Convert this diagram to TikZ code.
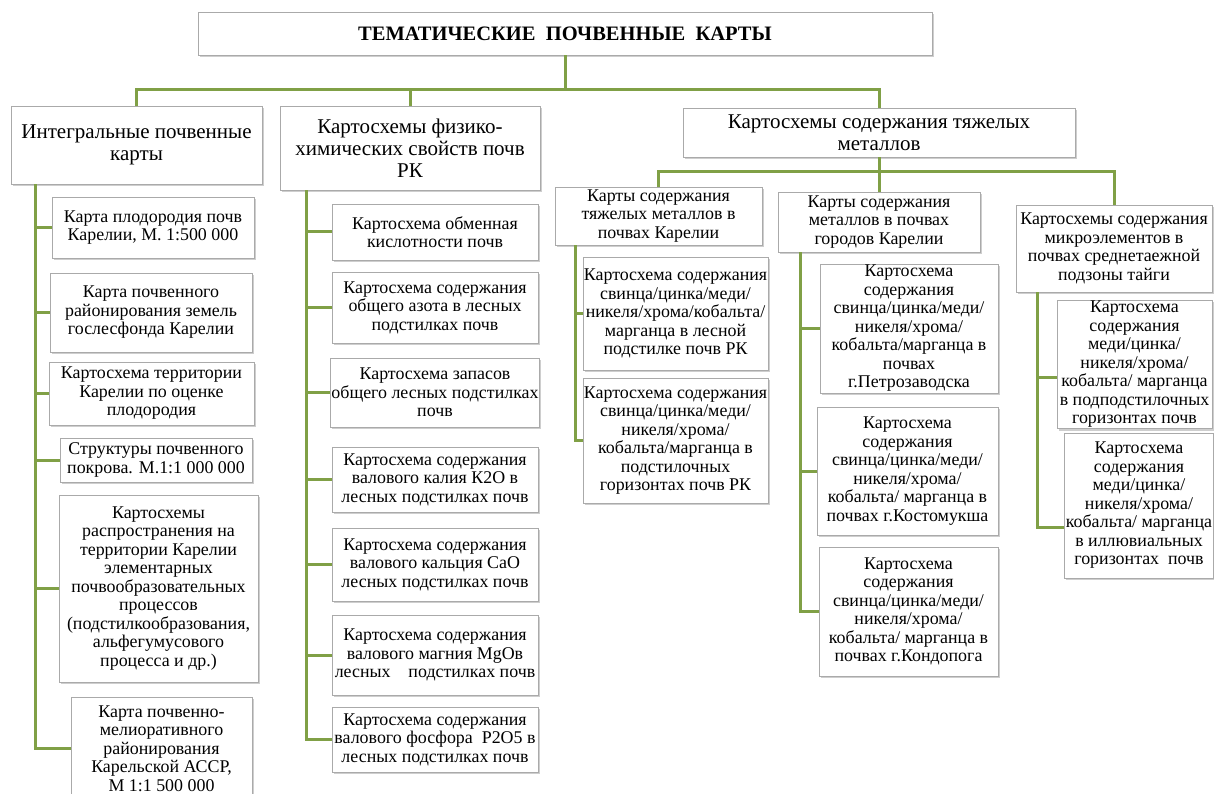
\documentclass[tikz,border=0pt]{standalone}
\usepackage{fontspec}
\setmainfont{Liberation Serif}
\usetikzlibrary{shadows}
\definecolor{linegreen}{RGB}{128,160,70}
\definecolor{boxborder}{RGB}{170,170,170}
\newcommand\bodyfont{\fontsize{17.9}{18.5}\selectfont}
\newcommand\levelfont{\fontsize{21}{22}\selectfont}
\newcommand\titlefont{\fontsize{20.5}{22}\selectfont\bfseries}
\tikzset{
  box/.style={draw=boxborder, line width=0.8pt, fill=white, align=center,
    inner sep=1pt, font=\bodyfont,
    drop shadow={shadow xshift=1.6pt, shadow yshift=-2pt, fill=black!35, opacity=0.55}},
  lvl/.style={box, font=\levelfont},
  conn/.style={draw=linegreen, line width=3pt}
}
\begin{document}
\begin{tikzpicture}[x=1pt,y=-1pt]
\useasboundingbox (0,0) rectangle (1214,794);

% title and level 1
\node[box, font=\titlefont, minimum width=734pt, minimum height=43pt] (T) at (565,33.5)
  {ТЕМАТИЧЕСКИЕ\enspace ПОЧВЕННЫЕ\enspace КАРТЫ};
\node[lvl, minimum width=251pt, minimum height=78pt] (A) at (136.5,145) {Интегральные почвенные\\карты};
\node[lvl, minimum width=260pt, minimum height=84pt] (B) at (410,148) {Картосхемы физико-\\химических свойств почв\\РК};
\node[lvl, minimum width=392pt, minimum height=49pt] (C) at (879,132.5) {Картосхемы содержания тяжелых\\металлов};

% level 2 under C
\node[box, minimum width=207pt, minimum height=58pt] (D) at (658.5,216) {Карты содержания\\тяжелых металлов в\\почвах Карелии};
\node[box, minimum width=202pt, minimum height=60pt] (E) at (879,222) {Карты содержания\\металлов в почвах\\городов Карелии};
\node[box, minimum width=196pt, minimum height=87pt] (F) at (1114,248.5) {Картосхемы содержания\\микроэлементов в\\почвах среднетаежной\\подзоны тайги};

% children of A
\node[box, minimum width=202pt, minimum height=61pt] (A1) at (153,227.5) {Карта плодородия почв\\Карелии, М. 1:500~000};
\node[box, minimum width=202pt, minimum height=79pt] (A2) at (151,312.5) {Карта почвенного\\районирования земель\\гослесфонда Карелии};
\node[box, minimum width=205pt, minimum height=63pt] (A3) at (151.5,393.5) {Картосхема территории\\Карелии по оценке\\плодородия};
\node[box, minimum width=192pt, minimum height=44pt] (A4) at (156,460) {Структуры почвенного\\покрова. М.1:1~000~000};
\node[box, minimum width=199pt, minimum height=187pt] (A5) at (158.5,588.5) {Картосхемы\\распространения на\\территории Карелии\\элементарных\\почвообразовательных\\процессов\\(подстилкообразования,\\альфегумусового\\процесса и др.)};
\node[box, minimum width=181pt, minimum height=103pt] (A6) at (161.5,748.5) {Карта почвенно-\\мелиоративного\\районирования\\Карельской АССР,\\М 1:1~500~000};

% children of B
\node[box, minimum width=206pt, minimum height=56pt] (B1) at (435,232) {Картосхема обменная\\кислотности почв};
\node[box, minimum width=206pt, minimum height=71pt] (B2) at (435,307.5) {Картосхема содержания\\общего азота в лесных\\подстилках почв};
\node[box, minimum width=206pt, minimum height=69pt] (B3) at (435,392.5) {Картосхема запасов\\общего лесных подстилках\\почв};
\node[box, minimum width=206pt, minimum height=65pt] (B4) at (435,479.5) {Картосхема содержания\\валового калия К2О в\\лесных подстилках почв};
\node[box, minimum width=206pt, minimum height=73pt] (B5) at (435,564.5) {Картосхема содержания\\валового кальция СаО\\лесных подстилках почв};
\node[box, minimum width=206pt, minimum height=80pt] (B6) at (435,655) {Картосхема содержания\\валового магния MgOв\\лесных\quad подстилках почв};
\node[box, minimum width=206pt, minimum height=65pt] (B7) at (435,739.5) {Картосхема содержания\\валового фосфора\ \ Р2О5 в\\лесных подстилках почв};

% children of D
\node[box, minimum width=185pt, minimum height=113pt] (D1) at (675.5,313.5) {Картосхема содержания\\свинца/цинка/меди/\\никеля/хрома/кобальта/\\марганца в лесной\\подстилке почв РК};
\node[box, minimum width=185pt, minimum height=125pt] (D2) at (675.5,440.5) {Картосхема содержания\\свинца/цинка/меди/\\никеля/хрома/\\кобальта/марганца в\\подстилочных\\горизонтах почв РК};

% children of E
\node[box, minimum width=178pt, minimum height=129pt] (E1) at (909,328.5) {Картосхема\\содержания\\свинца/цинка/меди/\\никеля/хрома/\\кобальта/марганца в\\почвах\\г.Петрозаводска};
\node[box, minimum width=181pt, minimum height=128pt] (E2) at (907.5,471) {Картосхема\\содержания\\свинца/цинка/меди/\\никеля/хрома/\\кобальта/ марганца в\\почвах г.Костомукша};
\node[box, minimum width=179pt, minimum height=129pt] (E3) at (908.5,611.5) {Картосхема\\содержания\\свинца/цинка/меди/\\никеля/хрома/\\кобальта/ марганца в\\почвах г.Кондопога};

% children of F
\node[box, minimum width=155pt, minimum height=115pt] (F1) at (1134.5,364.5) {Картосхема\\содержания\\меди/цинка/\\никеля/хрома/\\кобальта/ марганца\\в подподстилочных\\горизонтах почв};
\node[box, minimum width=146pt, minimum height=145pt] (F2) at (1139,505.5) {Картосхема\\содержания\\меди/цинка/\\никеля/хрома/\\кобальта/ марганца\\в иллювиальных\\горизонтах\ \ почв};

% connector coordinates
\coordinate (bar1) at (0,90);
\coordinate (bar2) at (0,172);
\coordinate (tA) at (35,0);
\coordinate (tB) at (306,0);
\coordinate (tD) at (575,0);
\coordinate (tE) at (800,0);
\coordinate (tF) at (1037,0);
\coordinate (f1b) at ([yshift=-13pt]F1.west);
\coordinate (f2b) at ([yshift=-22pt]F2.west);

% top connectors
\draw[conn] (T.south) -- (T.south |- bar1);
\draw[conn] (A.north) |- (C.north |- bar1) -- (C.north);
\draw[conn] (B.north) -- (B.north |- bar1);
\draw[conn] (C.south) -- (E.north);
\draw[conn] (D.north) |- (F.north |- bar2) -- (F.north);

% trunks
\draw[conn] (tA |- A.south) |- (A6.west);
\foreach \n in {A1,A2,A3,A4,A5} \draw[conn] (tA |- \n.west) -- (\n.west);
\draw[conn] (tB |- B.south) |- (B7.west);
\foreach \n in {B1,B2,B3,B4,B5,B6} \draw[conn] (tB |- \n.west) -- (\n.west);
\draw[conn] (tD |- D.south) |- (D2.west);
\draw[conn] (tD |- D1.west) -- (D1.west);
\draw[conn] (tE |- E.south) |- (E3.west);
\foreach \n in {E1,E2} \draw[conn] (tE |- \n.west) -- (\n.west);
\draw[conn] (tF |- F.south) |- (f2b);
\draw[conn] (tF |- f1b) -- (f1b);
\end{tikzpicture}
\end{document}
